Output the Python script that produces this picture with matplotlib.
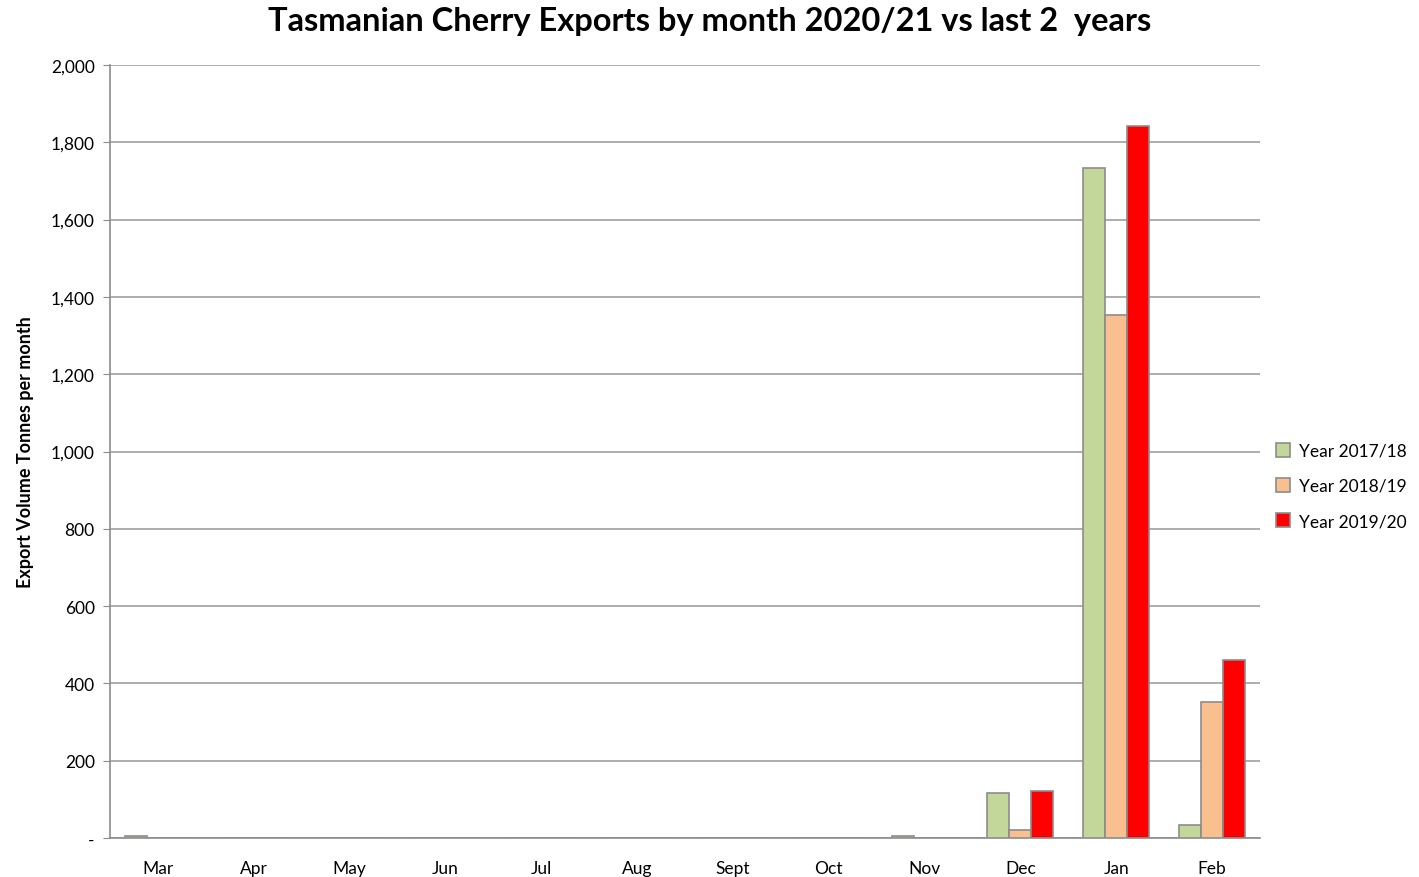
import matplotlib
matplotlib.use("Agg")
import matplotlib.pyplot as plt
from matplotlib.ticker import FuncFormatter
import numpy as np

months = ["Mar", "Apr", "May", "Jun", "Jul", "Aug", "Sept", "Oct", "Nov", "Dec", "Jan", "Feb"]
series = ["Year 2017/18", "Year 2018/19", "Year 2019/20"]
y1718 = [5, 0, 0, 0, 0, 0, 0, 0, 5, 117, 1733, 34]
y1819 = [0, 0, 0, 0, 0, 0, 0, 0, 0, 21, 1352, 352]
y1920 = [0, 0, 0, 0, 0, 0, 0, 0, 0, 122, 1842, 461]
colors = ["#c4d79b", "#fabf8f", "#ff0000"]

plt.rcParams["font.family"] = ["Lato", "DejaVu Sans"]
fig = plt.figure(figsize=(14.19, 8.78), dpi=100)
ax = fig.add_axes([110 / 1419, 39 / 878, 1150 / 1419, 773 / 878])

x = np.arange(len(months))
w = 0.23
for k, (vals, c, name) in enumerate(zip([y1718, y1819, y1920], colors, series)):
    ax.bar(x + (k - 1) * w, vals, width=w, color=c, edgecolor="#8c8c8c",
           linewidth=1.2, label=name, zorder=3)

ax.set_xlim(-0.5, 11.5)
ax.set_ylim(0, 2000)
ax.set_yticks(range(0, 2001, 200))
ax.yaxis.set_major_formatter(FuncFormatter(lambda v, p: "-" if v == 0 else f"{int(v):,}"))
ax.set_xticks(x)
ax.set_xticklabels(months)
ax.tick_params(axis="x", length=0, pad=16, labelsize=12.5)
ax.tick_params(axis="y", length=5, color="#8c8c8c", labelsize=12.5, pad=6)
ax.grid(axis="y", color="#a0a0a0", linewidth=1.2, zorder=0)
for s in ["top", "right"]:
    ax.spines[s].set_visible(False)
for s in ["left", "bottom"]:
    ax.spines[s].set_color("#8c8c8c")
    ax.spines[s].set_linewidth(1.2)

ax.set_ylabel("Export Volume Tonnes per month", fontsize=13, fontweight="bold", labelpad=12)
fig.text(0.5, 1 - 22 / 878, "Tasmanian Cherry Exports by month 2020/21 vs last 2  years",
         fontsize=23.5, fontweight="bold", ha="center", va="center")

leg = fig.legend(loc="center left", bbox_to_anchor=(1276 / 1419, 1 - 487 / 878), frameon=False,
                 fontsize=12.5, handlelength=0.8, handleheight=0.8, labelspacing=1.1,
                 handletextpad=0.5, borderpad=0, borderaxespad=0)

fig.savefig("out.png", facecolor="white")
